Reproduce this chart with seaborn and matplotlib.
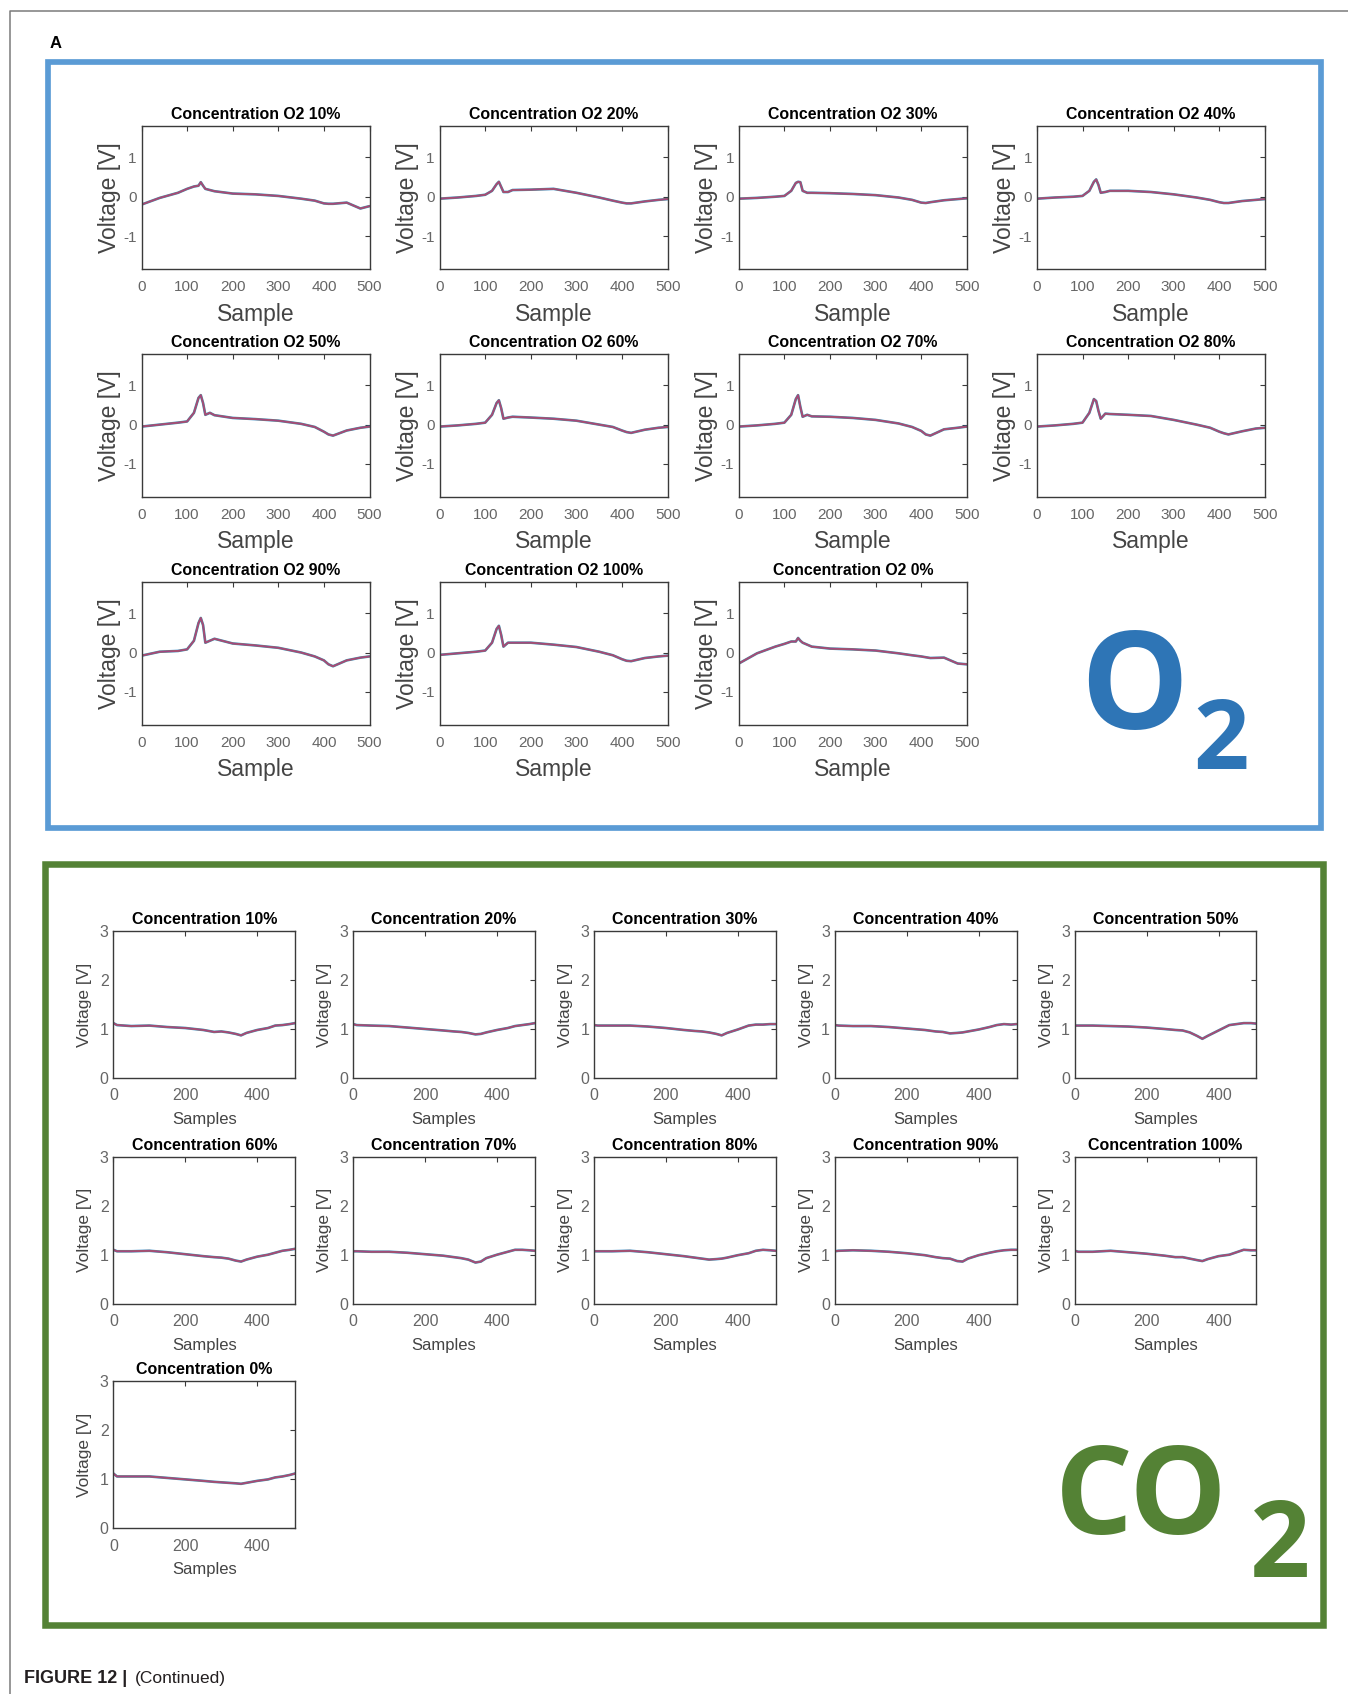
import numpy as np
import pandas as pd
import matplotlib
matplotlib.use("Agg")
import matplotlib.pyplot as plt
import seaborn as sns
from matplotlib.patches import Rectangle
from matplotlib.lines import Line2D

# ---------------- data ----------------
o2_sample = [0, 40, 80, 100, 115, 125, 130, 135, 140, 150, 160, 200, 250,
             300, 350, 380, 400, 410, 420, 450, 480, 500]
o2_titles = ["Concentration O2 10%", "Concentration O2 20%", "Concentration O2 30%",
             "Concentration O2 40%", "Concentration O2 50%", "Concentration O2 60%",
             "Concentration O2 70%", "Concentration O2 80%", "Concentration O2 90%",
             "Concentration O2 100%", "Concentration O2 0%"]
o2_10 = [-0.20, -0.03, 0.10, 0.20, 0.26, 0.28, 0.37, 0.28, 0.20, 0.17, 0.14, 0.08, 0.06, 0.02, -0.05, -0.10, -0.17, -0.18, -0.18, -0.15, -0.30, -0.24]
o2_20 = [-0.05, -0.02, 0.02, 0.05, 0.15, 0.32, 0.38, 0.25, 0.12, 0.12, 0.17, 0.18, 0.20, 0.10, -0.02, -0.10, -0.15, -0.17, -0.17, -0.12, -0.08, -0.06]
o2_30 = [-0.05, -0.03, 0.00, 0.02, 0.15, 0.35, 0.38, 0.37, 0.15, 0.10, 0.10, 0.09, 0.07, 0.04, -0.02, -0.08, -0.15, -0.16, -0.14, -0.09, -0.06, -0.04]
o2_40 = [-0.05, -0.02, 0.00, 0.02, 0.15, 0.38, 0.44, 0.30, 0.10, 0.12, 0.15, 0.15, 0.12, 0.06, -0.02, -0.08, -0.14, -0.16, -0.16, -0.11, -0.08, -0.06]
o2_50 = [-0.05, 0.00, 0.05, 0.08, 0.30, 0.68, 0.75, 0.55, 0.25, 0.30, 0.24, 0.17, 0.14, 0.10, 0.02, -0.06, -0.18, -0.25, -0.28, -0.15, -0.08, -0.05]
o2_60 = [-0.05, -0.02, 0.02, 0.05, 0.25, 0.55, 0.62, 0.42, 0.15, 0.18, 0.20, 0.18, 0.15, 0.10, 0.00, -0.06, -0.15, -0.19, -0.21, -0.13, -0.08, -0.06]
o2_70 = [-0.05, -0.02, 0.02, 0.05, 0.25, 0.65, 0.75, 0.45, 0.20, 0.25, 0.21, 0.20, 0.17, 0.12, 0.03, -0.06, -0.16, -0.25, -0.28, -0.12, -0.08, -0.05]
o2_80 = [-0.05, -0.02, 0.02, 0.05, 0.30, 0.65, 0.60, 0.35, 0.15, 0.28, 0.27, 0.25, 0.22, 0.12, 0.00, -0.08, -0.18, -0.22, -0.25, -0.17, -0.10, -0.08]
o2_90 = [-0.08, 0.02, 0.04, 0.08, 0.30, 0.75, 0.88, 0.70, 0.25, 0.30, 0.35, 0.23, 0.18, 0.12, 0.00, -0.10, -0.20, -0.30, -0.35, -0.20, -0.13, -0.10]
o2_100 = [-0.06, -0.02, 0.02, 0.05, 0.25, 0.60, 0.68, 0.45, 0.15, 0.25, 0.25, 0.25, 0.20, 0.14, 0.02, -0.07, -0.17, -0.21, -0.22, -0.14, -0.10, -0.08]
o2_0 = [-0.28, -0.02, 0.15, 0.22, 0.28, 0.28, 0.37, 0.30, 0.25, 0.20, 0.15, 0.10, 0.08, 0.05, -0.02, -0.07, -0.10, -0.12, -0.14, -0.13, -0.28, -0.30]
o2_xticks = [0, 100, 200, 300, 400, 500]
o2_yticks = [-1, 0, 1]

co2_sample = [0, 10, 50, 100, 150, 200, 250, 280, 300, 320, 340, 355, 370,
              400, 430, 450, 470, 490, 505]
co2_titles = ["Concentration 10%", "Concentration 20%", "Concentration 30%",
              "Concentration 40%", "Concentration 50%", "Concentration 60%",
              "Concentration 70%", "Concentration 80%", "Concentration 90%",
              "Concentration 100%", "Concentration 0%"]
co2_10 = [1.12, 1.08, 1.06, 1.07, 1.04, 1.02, 0.98, 0.94, 0.95, 0.93, 0.90, 0.87, 0.92, 0.98, 1.02, 1.07, 1.08, 1.10, 1.12]
co2_20 = [1.10, 1.08, 1.07, 1.06, 1.03, 1.00, 0.97, 0.95, 0.94, 0.92, 0.89, 0.90, 0.93, 0.98, 1.02, 1.06, 1.08, 1.10, 1.12]
co2_30 = [1.08, 1.07, 1.07, 1.07, 1.05, 1.02, 0.98, 0.96, 0.95, 0.93, 0.90, 0.87, 0.92, 0.99, 1.07, 1.09, 1.09, 1.10, 1.10]
co2_40 = [1.08, 1.07, 1.06, 1.06, 1.04, 1.01, 0.98, 0.95, 0.94, 0.91, 0.92, 0.93, 0.95, 0.99, 1.04, 1.08, 1.10, 1.09, 1.10]
co2_50 = [1.07, 1.07, 1.07, 1.06, 1.05, 1.03, 1.00, 0.98, 0.97, 0.93, 0.86, 0.80, 0.86, 0.97, 1.08, 1.10, 1.12, 1.12, 1.11]
co2_60 = [1.10, 1.07, 1.07, 1.08, 1.05, 1.01, 0.97, 0.95, 0.94, 0.92, 0.88, 0.86, 0.90, 0.96, 1.00, 1.04, 1.08, 1.10, 1.12]
co2_70 = [1.07, 1.07, 1.06, 1.06, 1.04, 1.01, 0.98, 0.95, 0.93, 0.90, 0.84, 0.86, 0.93, 1.00, 1.06, 1.10, 1.10, 1.09, 1.08]
co2_80 = [1.07, 1.07, 1.07, 1.08, 1.05, 1.01, 0.97, 0.94, 0.92, 0.90, 0.91, 0.92, 0.94, 0.99, 1.03, 1.08, 1.10, 1.09, 1.08]
co2_90 = [1.07, 1.08, 1.09, 1.08, 1.06, 1.03, 0.99, 0.95, 0.93, 0.92, 0.87, 0.86, 0.92, 0.99, 1.04, 1.07, 1.09, 1.10, 1.10]
co2_100 = [1.08, 1.06, 1.06, 1.08, 1.05, 1.02, 0.98, 0.95, 0.95, 0.92, 0.89, 0.87, 0.91, 0.97, 1.00, 1.05, 1.10, 1.09, 1.09]
co2_0 = [1.12, 1.06, 1.06, 1.06, 1.03, 1.00, 0.97, 0.95, 0.94, 0.93, 0.92, 0.91, 0.93, 0.97, 1.00, 1.04, 1.06, 1.09, 1.12]
co2_xticks = [0, 200, 400]
co2_yticks = [0, 1, 2, 3]

o2_series = [o2_10, o2_20, o2_30, o2_40, o2_50, o2_60, o2_70, o2_80, o2_90, o2_100, o2_0]
co2_series = [co2_10, co2_20, co2_30, co2_40, co2_50, co2_60, co2_70, co2_80, co2_90, co2_100, co2_0]

# ---------------- style ----------------
sns.set_style("white")
plt.rcParams['font.family'] = ['Liberation Sans', 'DejaVu Sans']
plt.rcParams['axes.unicode_minus'] = False

W, H = 1348, 1694
fig = plt.figure(figsize=(W / 100, H / 100), dpi=100)


def rect(l, t, w, h):
    return [l / W, 1 - (t + h) / H, w / W, h / H]


TRACE_COLORS = ['#0072BD', '#D95319', '#A3408C']
TRACE_LW = [1.9, 1.4, 0.9]
TRACE_ALPHA = [0.8, 0.7, 0.85]
BIG = ['Open Sans', 'DejaVu Sans']


def draw(ax, x, y):
    df = pd.DataFrame({'sample': x, 'voltage': y})
    for c, lw, a in zip(TRACE_COLORS, TRACE_LW, TRACE_ALPHA):
        sns.lineplot(data=df, x='sample', y='voltage', ax=ax, color=c,
                     linewidth=lw, alpha=a, estimator=None, sort=False)


def frame(ax, xpad, ypad, size):
    for s in ax.spines.values():
        s.set_visible(True)
        s.set_color('#3a3a3a')
        s.set_linewidth(1.0)
    ax.tick_params(direction='in', top=True, right=True, length=3.5, width=0.8,
                   color='#3a3a3a', labelcolor='#666666', labelsize=size)
    ax.tick_params(axis='x', pad=xpad)
    ax.tick_params(axis='y', pad=ypad)


# O2 panels
o2_left = [141.5, 439.6, 738.8, 1036.9]
o2_top = [126.4, 354.3, 582.2]
o2_w, o2_h = 228, 142.6
for i, (title, vals) in enumerate(zip(o2_titles, o2_series)):
    r, c = divmod(i, 4)
    ax = fig.add_axes(rect(o2_left[c], o2_top[r], o2_w, o2_h))
    draw(ax, o2_sample, vals)
    ax.set_xlim(0, 500)
    ax.set_ylim(-1.84, 1.79)
    ax.set_xticks(o2_xticks)
    ax.set_yticks(o2_yticks)
    frame(ax, 8, 3.5, 11)
    ax.set_title(title, fontsize=11.4, fontweight='bold', color='black', pad=5.5)
    ax.set_xlabel('Sample', fontsize=16.5, color='#444444')
    ax.set_ylabel('Voltage [V]', fontsize=16.5, color='#444444')
    ax.xaxis.set_label_coords(0.5, -45 / o2_h)
    ax.xaxis.label.set_va('center')
    ax.yaxis.set_label_coords(-32 / o2_w, 0.5)
    ax.yaxis.label.set_va('center')

# CO2 panels
co2_left = [113.4, 353.2, 594.0, 834.9, 1074.7]
co2_top = [931.0, 1156.7, 1381.4]
co2_w, co2_h = 181.6, 147.0
for i, (title, vals) in enumerate(zip(co2_titles, co2_series)):
    r, c = divmod(i, 5)
    ax = fig.add_axes(rect(co2_left[c], co2_top[r], co2_w, co2_h))
    draw(ax, co2_sample, vals)
    ax.set_xlim(0, 505)
    ax.set_ylim(0, 3)
    ax.set_xticks(co2_xticks)
    ax.set_yticks(co2_yticks)
    frame(ax, 7.3, 3.5, 11.5)
    ax.set_title(title, fontsize=11.5, fontweight='bold', color='black', pad=5)
    ax.set_xlabel('Samples', fontsize=12, color='#444444')
    ax.set_ylabel('Voltage [V]', fontsize=12.5, color='#444444')
    ax.xaxis.set_label_coords(0.5, -41.5 / co2_h)
    ax.xaxis.label.set_va('center')
    ax.yaxis.set_label_coords(-28.5 / co2_w, 0.5)
    ax.yaxis.label.set_va('center')

# Boxes and frame
fig.add_artist(Rectangle((47.8 / W, 1 - 828 / H), (1321 - 47.8) / W, (828 - 62) / H,
                         transform=fig.transFigure, fill=False, edgecolor='#5b9bd5',
                         linewidth=4.1, joinstyle='miter'))
fig.add_artist(Rectangle((45 / W, 1 - 1625 / H), (1323 - 45) / W, (1625 - 864) / H,
                         transform=fig.transFigure, fill=False, edgecolor='#548235',
                         linewidth=4.7, joinstyle='miter'))
fig.add_artist(Line2D([9.5 / W, 9.5 / W, 1.0], [0.0, 1 - 10.7 / H, 1 - 10.7 / H],
                      transform=fig.transFigure, color='#7a7a7a', linewidth=1.1))

# Texts
fig.text(50 / W, 1 - 47.5 / H, 'A', fontsize=12, fontweight='bold', color='black')
fig.text(24 / W, 1 - 1683 / H, 'FIGURE 12 |', fontsize=13, fontweight='bold', color='#231f20')
fig.text(135 / W, 1 - 1683 / H, '(Continued)', fontsize=12.5, color='#231f20')

fig.text(1080 / W, 1 - 729 / H, 'O', fontsize=98, fontweight='bold', color='#2e75b6',
         family=BIG, va='baseline', ha='left')
fig.text(1193 / W, 1 - 769 / H, '2', fontsize=70, fontweight='bold', color='#2e75b6',
         family=BIG, va='baseline', ha='left')
fig.text(1055 / W, 1 - 1534 / H, 'CO', fontsize=88, fontweight='bold', color='#548235',
         family=BIG, va='baseline', ha='left')
fig.text(1250 / W, 1 - 1577 / H, '2', fontsize=76, fontweight='bold', color='#548235',
         family=BIG, va='baseline', ha='left')

fig.savefig('out.png', dpi=100, facecolor='white')
